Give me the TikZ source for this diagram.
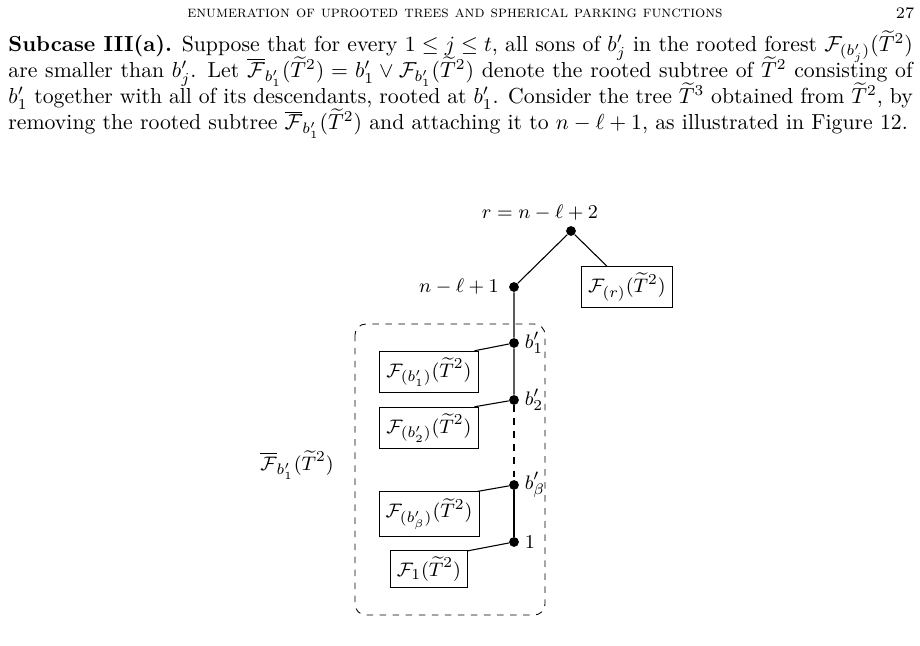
\documentclass[tikz,border=0pt]{standalone}
\usepackage{amsmath,amssymb}
\usetikzlibrary{positioning}
\newcommand{\Tt}{\widetilde{T}^2}
\begin{document}
\begin{tikzpicture}[x=0.46pt,y=-0.46pt,
    dot/.style={circle,fill,inner sep=0pt,minimum size=4.5pt},
    lab/.style={font=\fontsize{9.4}{11}\selectfont},
    forest/.style={draw,lab,inner sep=3pt,minimum height=17pt},
    edge/.style={line width=0.5pt}]
  \useasboundingbox (0,0) rectangle (920,646);
  % page text
  \node (head) at (455,13) {\fontsize{7.4}{9}\selectfont\scshape enumeration of uprooted trees and spherical parking functions};
  \node (page) at (905,13) {\fontsize{7.4}{9}\selectfont 27};
  \node (para) [anchor=north west,inner sep=0pt,text width=416pt,align=justify] at (8,30)
    {\baselineskip=12pt\lineskiplimit=-10pt
     \textbf{Subcase III(a).} Suppose that for every $1\le j\le t$, all sons of $b'_j$ in the rooted forest $\mathcal{F}_{(b'_j)}(\Tt)$\linebreak
     are smaller than $b'_j$. Let $\overline{\mathcal{F}}_{b'_1}(\Tt)=b'_1\vee\mathcal{F}_{b'_1}(\Tt)$ denote the rooted subtree of $\Tt$ consisting of\linebreak
     $b'_1$ together with all of its descendants, rooted at $b'_1$. Consider the tree $\widetilde{T}^3$ obtained from $\Tt$, by\linebreak
     removing the rooted subtree $\overline{\mathcal{F}}_{b'_1}(\Tt)$ and attaching it to $n-\ell+1$, as illustrated in Figure 12.\par};
  % tree
  \node[dot] (r) at (571,231) {};
  \node[lab] (rlab) at (540,213) {$r=n-\ell+2$};
  \node[dot] (m) at (514,287) {};
  \node[lab,left=1pt of m] (mlab) {$n-\ell+1$};
  \node[forest] (fr) at (627,287) {$\mathcal{F}_{(r)}(\Tt)$};
  \node[dot] (b1) at (514,343) {};
  \node[dot] (b2) at (514,400) {};
  \node[dot] (bb) at (514,485) {};
  \node[dot] (one) at (514,542) {};
  \node[lab,right=-1pt of b1] {$b'_1$};
  \node[lab,right=-1pt of b2] {$b'_2$};
  \node[lab,right=-1pt of bb] {$b'_\beta$};
  \node[lab,right=-1pt of one] {$1$};
  \node[forest] (fb1) at (429,372) {$\mathcal{F}_{(b'_1)}(\Tt)$};
  \node[forest] (fb2) at (429,428) {$\mathcal{F}_{(b'_2)}(\Tt)$};
  \node[forest] (fbb) at (429,514) {$\mathcal{F}_{(b'_\beta)}(\Tt)$};
  \node[forest] (f1) at (429,569) {$\mathcal{F}_{1}(\Tt)$};
  \node[lab] (sub) at (297,465) {$\overline{\mathcal{F}}_{b'_1}(\Tt)$};
  \draw[dashed,rounded corners=5pt] (355,324) rectangle (545,615);
  \draw[edge] (r) -- (m) -- (b1) -- (b2);
  \draw[edge] (r) -- (fr.134);
  \draw[edge,dashed] (b2) -- (bb);
  \draw[edge] (bb) -- (one);
  \draw[edge] (b1) -- (fb1.25);
  \draw[edge] (b2) -- (fb2.25);
  \draw[edge] (bb) -- (fbb.25);
  \draw[edge] (one) -- (f1.25);
\end{tikzpicture}
\end{document}
